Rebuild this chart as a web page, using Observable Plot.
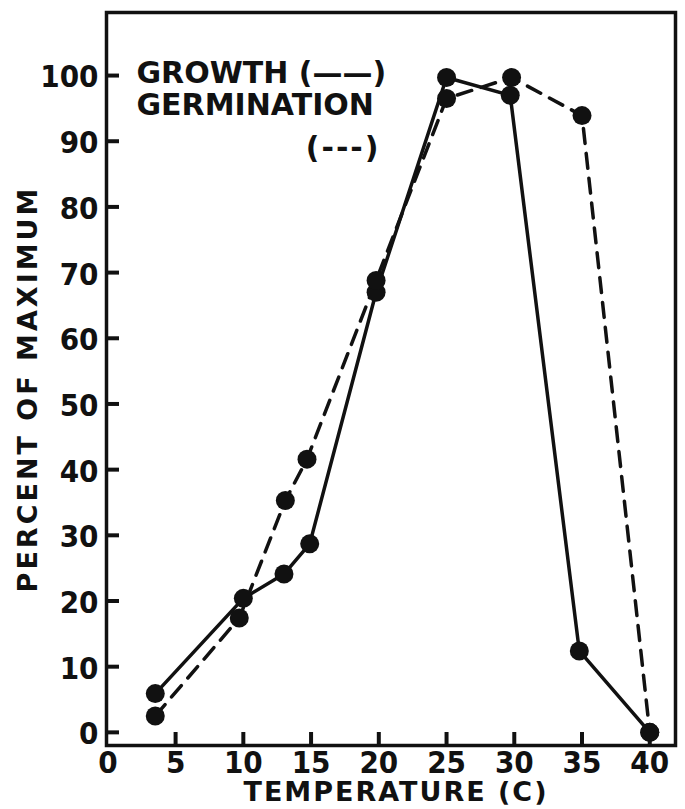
<!DOCTYPE html>
<html>
<head>
<meta charset="utf-8">
<script src="https://cdn.jsdelivr.net/npm/d3@7"></script>
<script src="https://cdn.jsdelivr.net/npm/@observablehq/plot@0.6"></script>
<style>
  html, body { margin: 0; padding: 0; background: #fff; }
</style>
</head>
<body>
<div id="chart"></div>
<script>
// ---- data ----
const growthTemps = [3.5, 10, 13, 14.9, 19.8, 25, 29.7, 34.8, 40];
const growthValues = [5.9, 20.4, 24.1, 28.7, 67, 99.7, 97, 12.4, 0];
const germTemps = [3.5, 9.7, 13.1, 14.7, 19.8, 25, 29.8, 35, 40];
const germValues = [2.5, 17.4, 35.3, 41.6, 68.8, 96.5, 99.7, 93.9, 0];
const xTickValues = [0, 5, 10, 15, 20, 25, 30, 35, 40];
const xTickMarks = [5, 10, 15, 20, 25, 30, 35, 40];
const yTickValues = [0, 10, 20, 30, 40, 50, 60, 70, 80, 90, 100];
const legendGrowth = ["GROWTH (——)"];
const legendGerm = ["GERMINATION"];
const legendDash = ["(---)"];
const xLabel = "TEMPERATURE (C)";
const yLabel = "PERCENT OF MAXIMUM";

const growth = growthTemps.map((t, i) => ({t, v: growthValues[i]}));
const germination = germTemps.map((t, i) => ({t, v: germValues[i]}));

const W = 685, H = 809;
const mL = 106, mR = 10, mT = 12, mB = 64;
const plotW = W - mL - mR, plotH = H - mT - mB;
const tickLen = 13;
const ink = "#111";
const condensed = "'DejaVu Sans Condensed', 'DejaVu Sans', sans-serif";
const legendStyle = {text: d => d, frameAnchor: "top-left", lineAnchor: "middle", fontSize: 30, fill: ink};

const chart = Plot.plot({
  width: W,
  height: H,
  marginLeft: mL,
  marginRight: mR,
  marginTop: mT,
  marginBottom: mB,
  style: {fontFamily: "'DejaVu Sans', sans-serif", fontWeight: "bold", color: ink, background: "#fff"},
  x: {domain: [-0.1, 41.9], axis: null},
  y: {domain: [-2.0, 109.6], axis: null},
  marks: [
    Plot.frame({stroke: ink, strokeWidth: 3.5}),
    Plot.tickY(yTickValues, {y: d => d, stroke: ink, strokeWidth: 4, insetRight: plotW - tickLen}),
    Plot.tickX(xTickMarks, {x: d => d, stroke: ink, strokeWidth: 4, insetTop: plotH - tickLen}),
    Plot.axisY({ticks: yTickValues, tickSize: 0, tickPadding: 8, fontSize: 31, fontFamily: condensed, fill: ink, dy: 2, label: null}),
    Plot.axisX({ticks: xTickValues, tickSize: 0, tickPadding: 5, fontSize: 31, fontFamily: condensed, fill: ink, label: null}),
    Plot.line(growth, {x: "t", y: "v", stroke: ink, strokeWidth: 3.5}),
    Plot.line(germination, {x: "t", y: "v", stroke: ink, strokeWidth: 3.5, strokeDasharray: "15,10"}),
    Plot.dot(growth, {x: "t", y: "v", r: 9.5, fill: ink}),
    Plot.dot(germination, {x: "t", y: "v", r: 9.5, fill: ink}),
    Plot.text(legendGrowth, {...legendStyle, textAnchor: "start", dx: 30, dy: 61}),
    Plot.text(legendGerm, {...legendStyle, textAnchor: "start", dx: 30, dy: 93}),
    Plot.text(legendDash, {...legendStyle, textAnchor: "end", dx: 274, dy: 136}),
    Plot.text([xLabel], {text: d => d, frameAnchor: "bottom", textAnchor: "middle", lineAnchor: "middle",
      dx: 5, dy: 47, fontSize: 27, fill: ink}),
    Plot.text([yLabel], {text: d => d, frameAnchor: "left", textAnchor: "middle", lineAnchor: "middle",
      rotate: -90, dx: -78, dy: 10, fontSize: 27, fill: ink})
  ]
});

// letter spacing for the hand-lettered look
const svg = d3.select(chart);
svg.selectAll("text").each(function() {
  const t = this.textContent;
  const sel = d3.select(this);
  if (t === yLabel) sel.style("letter-spacing", "3px");
  if (t === xLabel) sel.style("letter-spacing", "2px");
  if (t === legendDash[0]) sel.style("letter-spacing", "2px");
});

document.getElementById("chart").appendChild(chart);
</script>
</body>
</html>
